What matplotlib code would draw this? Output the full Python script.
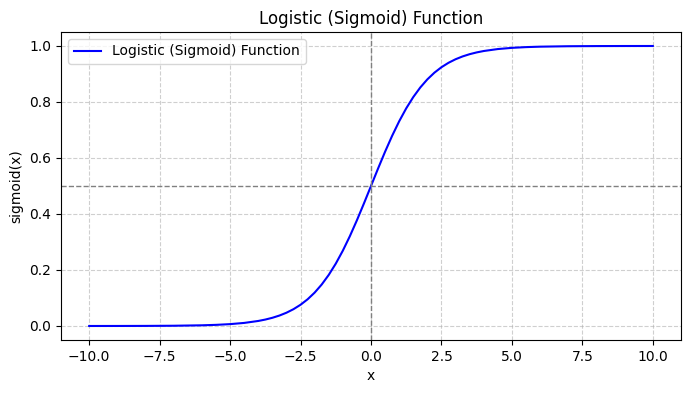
import matplotlib
matplotlib.use("Agg")
import matplotlib.pyplot as plt

# values
x_vals = [-10.0, -9.0, -8.0, -7.0, -6.0, -5.5, -5.0, -4.5, -4.0, -3.75, -3.5, -3.25,
          -3.0, -2.75, -2.5, -2.25, -2.0, -1.75, -1.5, -1.25, -1.0, -0.75, -0.5, -0.25,
          0.0, 0.25, 0.5, 0.75, 1.0, 1.25, 1.5, 1.75, 2.0, 2.25, 2.5, 2.75, 3.0,
          3.25, 3.5, 3.75, 4.0, 4.5, 5.0, 5.5, 6.0, 7.0, 8.0, 9.0, 10.0]
y_vals = [0.0000454, 0.000123, 0.000335, 0.000911, 0.002473, 0.004070, 0.006693,
          0.010987, 0.017986, 0.022977, 0.029312, 0.037327, 0.047426, 0.060087,
          0.075858, 0.095349, 0.119203, 0.148047, 0.182426, 0.222700, 0.268941,
          0.320821, 0.377541, 0.437823, 0.5, 0.562177, 0.622459, 0.679179, 0.731059,
          0.777300, 0.817574, 0.851953, 0.880797, 0.904651, 0.924142, 0.939913,
          0.952574, 0.962673, 0.970688, 0.977023, 0.982014, 0.989013, 0.993307,
          0.995930, 0.997527, 0.999089, 0.999665, 0.999877, 0.9999546]

fig = plt.figure(figsize=(6.91, 3.93), dpi=100)
ax = fig.add_subplot(111)
fig.subplots_adjust(left=0.0883, right=0.9855, top=0.9186, bottom=0.1349)

ax.plot(x_vals, y_vals, color="blue", label="Logistic (Sigmoid) Function")
ax.axhline(0.5, color="gray", linestyle="--", linewidth=1)
ax.axvline(0, color="gray", linestyle="--", linewidth=1)
ax.grid(True, linestyle="--", alpha=0.6)
ax.set_title("Logistic (Sigmoid) Function")
ax.set_xlabel("x")
ax.set_ylabel("sigmoid(x)")
ax.legend(loc="upper left")

fig.savefig("out.png", dpi=100)
